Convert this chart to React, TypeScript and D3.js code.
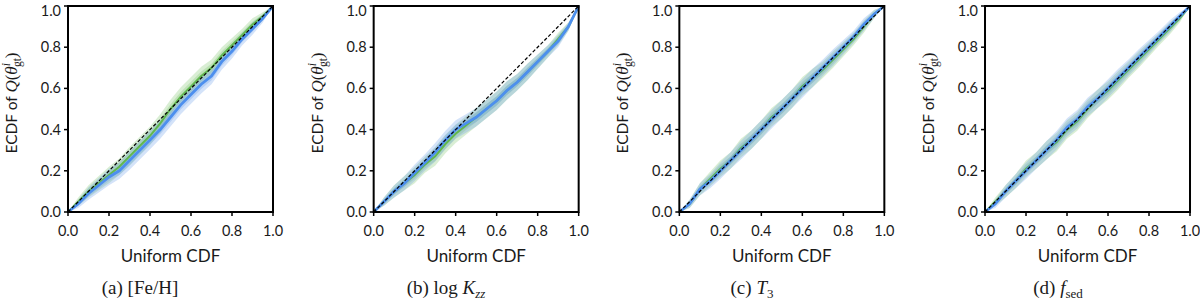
import React from "react";
import * as d3 from "d3";

// ECDF of quantile of ground truth vs uniform CDF, two models per parameter
const GRID = [0, 0.05, 0.1, 0.15, 0.2, 0.25, 0.3, 0.35, 0.4, 0.45, 0.5, 0.55, 0.6, 0.65, 0.7, 0.75, 0.8, 0.85, 0.9, 0.95, 1];

const GREEN_A = [0, 0.05, 0.1, 0.14, 0.18, 0.22, 0.27, 0.32, 0.37, 0.43, 0.5, 0.56, 0.61, 0.66, 0.7, 0.76, 0.81, 0.86, 0.91, 0.95, 1];
const BLUE_A = [0, 0.04, 0.09, 0.13, 0.17, 0.2, 0.25, 0.3, 0.35, 0.4, 0.46, 0.52, 0.57, 0.62, 0.66, 0.73, 0.78, 0.84, 0.89, 0.94, 1];
const GREEN_B = [0, 0.05, 0.1, 0.14, 0.18, 0.23, 0.27, 0.33, 0.38, 0.42, 0.46, 0.5, 0.54, 0.59, 0.63, 0.68, 0.73, 0.78, 0.84, 0.9, 1];
const BLUE_B = [0, 0.05, 0.1, 0.14, 0.19, 0.24, 0.29, 0.35, 0.4, 0.43, 0.46, 0.5, 0.54, 0.59, 0.63, 0.68, 0.73, 0.78, 0.83, 0.9, 1];
const GREEN_C = [0, 0.04, 0.11, 0.16, 0.21, 0.25, 0.31, 0.35, 0.4, 0.46, 0.5, 0.55, 0.61, 0.65, 0.69, 0.74, 0.79, 0.84, 0.9, 0.96, 1];
const BLUE_C = [0, 0.04, 0.11, 0.15, 0.2, 0.25, 0.3, 0.35, 0.4, 0.45, 0.5, 0.55, 0.6, 0.65, 0.7, 0.75, 0.8, 0.85, 0.91, 0.96, 1];
const GREEN_D = [0, 0.05, 0.1, 0.15, 0.21, 0.25, 0.3, 0.34, 0.4, 0.44, 0.5, 0.55, 0.59, 0.64, 0.69, 0.74, 0.79, 0.84, 0.89, 0.94, 1];
const BLUE_D = [0, 0.04, 0.1, 0.15, 0.2, 0.25, 0.3, 0.35, 0.41, 0.45, 0.51, 0.55, 0.6, 0.65, 0.7, 0.75, 0.8, 0.85, 0.9, 0.95, 1];

const BAND_HALF = [0, 0.02, 0.03, 0.035, 0.04, 0.04, 0.045, 0.045, 0.045, 0.045, 0.045, 0.045, 0.045, 0.045, 0.04, 0.04, 0.035, 0.03, 0.03, 0.02, 0];

const CAPTION_LETTERS = ["(a)", "(b)", "(c)", "(d)"];
const TICKS = [0, 0.2, 0.4, 0.6, 0.8, 1.0];

const PANELS = [
  { green: GREEN_A, blue: BLUE_A },
  { green: GREEN_B, blue: BLUE_B },
  { green: GREEN_C, blue: BLUE_C },
  { green: GREEN_D, blue: BLUE_D },
];

const WIDTH = 1200;
const HEIGHT = 301;
const PLOT_W = 205;
const PLOT_H = 206;
const TOP = 6;
const FIRST_LEFT = 68;
const STEP = 305.67;
const SANS = "Lato, 'Open Sans', sans-serif";
const SERIF = "'Liberation Serif', 'DejaVu Serif', serif";
const INK = "#1a1a1a";

const GREEN = "#62b84e";
const BLUE = "#4d8fee";
const GREEN_BAND = "rgba(120,195,100,0.28)";
const BLUE_BAND = "rgba(100,155,235,0.28)";

const X_SCALE = d3.scaleLinear().domain([0, 1]).range([0, PLOT_W]);
const Y_SCALE = d3.scaleLinear().domain([0, 1]).range([PLOT_H, 0]);
const FMT = d3.format(".1f");

const lineGen = d3
  .line<number>()
  .x((d, i) => X_SCALE(GRID[i]))
  .y((d) => Y_SCALE(d));

const bandGen = (vals: number[], k: number) =>
  d3
    .area<number>()
    .x((d, i) => X_SCALE(GRID[i]))
    .y0((d, i) => Y_SCALE(Math.max(0, d - BAND_HALF[i] * k)))
    .y1((d, i) => Y_SCALE(Math.min(1, d + BAND_HALF[i] * k)))(vals);

const Caption = ({ i }: { i: number }) => {
  const letter = CAPTION_LETTERS[i];
  if (i === 0) return <tspan>{letter} [Fe/H]</tspan>;
  if (i === 1)
    return (
      <tspan>
        {letter} log <tspan fontStyle="italic">K</tspan>
        <tspan fontStyle="italic" fontSize="13" dy="4">zz</tspan>
      </tspan>
    );
  if (i === 2)
    return (
      <tspan>
        {letter} <tspan fontStyle="italic">T</tspan>
        <tspan fontSize="13" dy="4">3</tspan>
      </tspan>
    );
  return (
    <tspan>
      {letter} <tspan fontStyle="italic">f</tspan>
      <tspan fontSize="13" dy="4">sed</tspan>
    </tspan>
  );
};

const Panel = ({ i }: { i: number }) => {
  const left = FIRST_LEFT + i * STEP;
  const p = PANELS[i];
  return (
    <g>
      <g transform={`translate(${left},${TOP})`}>
        {/* bands */}
        <path d={bandGen(p.green, 1) || ""} fill={GREEN_BAND} />
        <path d={bandGen(p.green, 0.5) || ""} fill={GREEN_BAND} />
        <path d={bandGen(p.blue, 1) || ""} fill={BLUE_BAND} />
        <path d={bandGen(p.blue, 0.5) || ""} fill={BLUE_BAND} />
        <path d={lineGen(p.green) || ""} fill="none" stroke={GREEN} strokeWidth={2} />
        <path d={lineGen(p.blue) || ""} fill="none" stroke={BLUE} strokeWidth={2.8} />
        <line
          x1={X_SCALE(0)}
          y1={Y_SCALE(0)}
          x2={X_SCALE(1)}
          y2={Y_SCALE(1)}
          stroke="black"
          strokeWidth={1.2}
          strokeDasharray="3.5,2"
        />
        {/* ticks */}
        {TICKS.map((t) => (
          <g key={"x" + t}>
            <line x1={X_SCALE(t)} x2={X_SCALE(t)} y1={PLOT_H} y2={PLOT_H + 4} stroke="black" strokeWidth={1.5} />
            <text x={X_SCALE(t)} y={PLOT_H + 24} textAnchor="middle" fontFamily={SANS} fontSize={14.5} fill={INK}>
              {FMT(t)}
            </text>
          </g>
        ))}
        {TICKS.map((t) => (
          <g key={"y" + t}>
            <line x1={-4} x2={0} y1={Y_SCALE(t)} y2={Y_SCALE(t)} stroke="black" strokeWidth={1.5} />
            <text
              x={-7}
              y={Math.max(Y_SCALE(t), 5)}
              dy="0.35em"
              textAnchor="end"
              fontFamily={SANS}
              fontSize={14.5}
              fill={INK}
            >
              {FMT(t)}
            </text>
          </g>
        ))}
        <rect x={0} y={0} width={PLOT_W} height={PLOT_H} fill="none" stroke="black" strokeWidth={2} />
        <text x={PLOT_W / 2} y={PLOT_H + 50} textAnchor="middle" fontFamily={SANS} fontSize={17} fill={INK}>
          Uniform CDF
        </text>
        <text
          transform={`translate(${-51},${PLOT_H / 2 - 6}) rotate(-90)`}
          textAnchor="middle"
          fontFamily={SANS}
          fontSize={15.5}
          fill={INK}
        >
          ECDF of{" "}
          <tspan fontFamily={SERIF} fontStyle="italic" fontSize={17}>Q</tspan>
          <tspan fontFamily={SERIF} fontSize={17}>(</tspan>
          <tspan fontFamily={SERIF} fontStyle="italic" fontSize={17}>θ</tspan>
          <tspan fontFamily={SERIF} fontStyle="italic" fontSize={11.5} dy={-7}>i</tspan>
          <tspan fontFamily={SERIF} fontSize={11.5} dx={-4} dy={11}>gt</tspan>
          <tspan fontFamily={SERIF} fontSize={17} dy={-4}>)</tspan>
        </text>
      </g>
      <text x={140 + i * 306} y={294} textAnchor="middle" fontFamily={SERIF} fontSize={19} fill={INK}>
        <Caption i={i} />
      </text>
    </g>
  );
};

export default function App() {
  return (
    <svg
      width={WIDTH}
      height={HEIGHT}
      style={{ position: "absolute", left: 0, top: 0, background: "white" }}
    >
      {PANELS.map((_, i) => (
        <Panel key={i} i={i} />
      ))}
    </svg>
  );
}
